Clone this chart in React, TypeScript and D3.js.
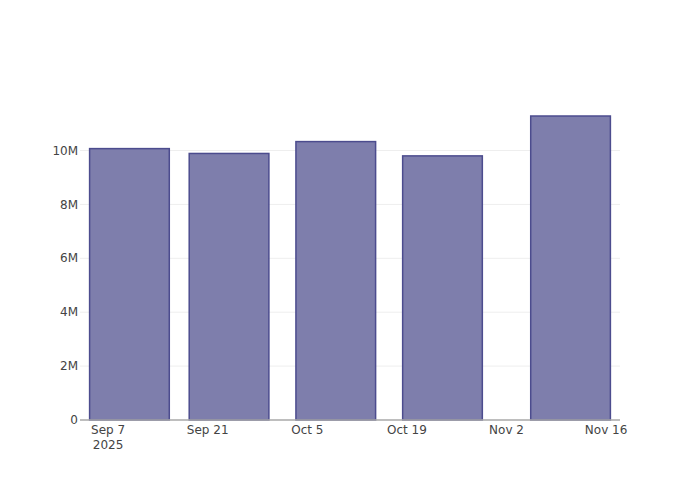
import React from "react";
import * as d3 from "d3";

const dates = ["2025-09-10", "2025-09-24", "2025-10-09", "2025-10-24", "2025-11-11"];
const values = [10.07e6, 9.89e6, 10.33e6, 9.8e6, 11.28e6];
const xTickDates = ["2025-09-07", "2025-09-21", "2025-10-05", "2025-10-19", "2025-11-02", "2025-11-16"];
const xTickLabels = [["Sep 7", "2025"], ["Sep 21"], ["Oct 5"], ["Oct 19"], ["Nov 2"], ["Nov 16"]];
const yTicks = [0, 2e6, 4e6, 6e6, 8e6, 10e6];
const yTickLabels = ["0", "2M", "4M", "6M", "8M", "10M"];

const W = 700, H = 500;
const M = { l: 80, r: 80, t: 100, b: 80 };
const DAY = 86400000;

export default function App() {
  const parse = (s: string) => new Date(s + "T00:00:00Z");
  const xs = dates.map(parse);
  const minGap = d3.min(xs.slice(1).map((d, i) => +d - +xs[i])) as number;
  const barW = minGap * 0.8;
  const pad = 1.35 * DAY;
  const x = d3
    .scaleUtc()
    .domain([+xs[0] - barW / 2 - pad, +xs[xs.length - 1] + barW / 2 + pad])
    .range([M.l, W - M.r]);
  const y = d3
    .scaleLinear()
    .domain([0, (d3.max(values) as number) / 0.95])
    .range([H - M.b, M.t]);
  const font = "'DejaVu Sans', sans-serif";
  return (
    <svg width={W} height={H} style={{ position: "absolute", left: 0, top: 0 }}>
      <rect width={W} height={H} fill="#fff" />
      {yTicks.slice(1).map((t) => (
        <line key={t} x1={M.l} x2={W - M.r} y1={y(t)} y2={y(t)} stroke="#eee" strokeWidth={1} />
      ))}
      {xs.map((d, i) => {
        const x0 = x(+d - barW / 2);
        const x1 = x(+d + barW / 2);
        return (
          <rect
            key={i}
            x={x0}
            y={y(values[i])}
            width={x1 - x0}
            height={y(0) - y(values[i])}
            fill="#7e7eac"
            stroke="#4c4c8e"
            strokeWidth={1.5}
          />
        );
      })}
      <line x1={M.l} x2={W - M.r} y1={y(0)} y2={y(0)} stroke="#a8a8a8" strokeWidth={1.5} />
      {yTicks.map((t, i) => (
        <text key={t} x={M.l - 2} y={y(t)} dy="0.35em" textAnchor="end" fontFamily={font} fontSize={12} fill="#444">
          {yTickLabels[i]}
        </text>
      ))}
      {xTickDates.map((s, i) =>
        xTickLabels[i].map((l, j) => (
          <text
            key={s + j}
            x={x(parse(s))}
            y={434 + j * 15}
            textAnchor="middle"
            fontFamily={font}
            fontSize={12}
            fill="#444"
          >
            {l}
          </text>
        ))
      )}
    </svg>
  );
}
